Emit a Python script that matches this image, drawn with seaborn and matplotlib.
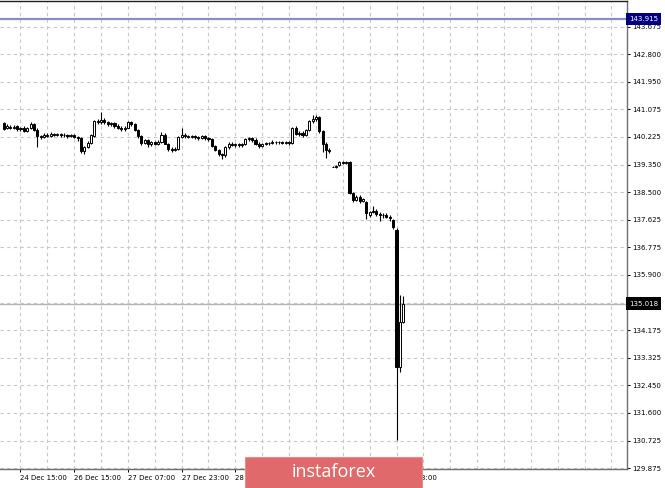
import numpy as np
import pandas as pd
import matplotlib
matplotlib.use("Agg")
import matplotlib.pyplot as plt
import seaborn as sns
from matplotlib.patches import Rectangle
from matplotlib.transforms import blended_transform_factory

# H1 candles (bar 0 = left edge of chart)
opens = [140.65, 140.50, 140.55, 140.52, 140.56, 140.47, 140.50, 140.42, 140.50, 140.62,
         140.45, 140.25, 140.22, 140.30, 140.27, 140.33, 140.30, 140.31, 140.28, 140.30,
         140.26, 140.28, 140.22, 140.18, 139.80, 139.92, 140.05, 140.26, 140.72, 140.70,
         140.75, 140.68, 140.62, 140.66, 140.58, 140.50, 140.46, 140.52, 140.68, 140.62,
         140.45, 140.25, 140.05, 140.12, 140.00, 140.06, 140.02, 140.08, 140.30, 140.02,
         139.85, 139.82, 139.86, 140.22, 140.30, 140.25, 140.22, 140.26, 140.22, 140.20,
         140.25, 140.18, 140.15, 139.95, 139.82, 139.68, 139.65, 139.90, 140.02, 139.98,
         140.00, 139.96, 140.00, 140.15, 140.20, 140.14, 140.02, 139.94, 140.00, 140.05,
         140.03, 140.08, 140.06, 140.08, 140.05, 140.07, 140.03, 140.50, 140.32, 140.35,
         140.30, 140.45, 140.72, 140.80, 140.84, 140.40, 140.02, 139.82, 139.30, 139.30,
         139.34, 139.44, 139.42, 139.44, 138.48, 138.26, 138.36, 138.24, 138.20, 137.78,
         137.88, 137.92, 137.82, 137.78, 137.80, 137.74, 137.62, 137.32, 133.05, 134.45]
highs = [140.70, 140.62, 140.60, 140.60, 140.61, 140.55, 140.56, 140.54, 140.68, 140.66,
         140.50, 140.30, 140.34, 140.36, 140.38, 140.36, 140.35, 140.34, 140.34, 140.33,
         140.32, 140.31, 140.26, 140.22, 139.95, 140.10, 140.32, 140.76, 140.80, 141.00,
         140.82, 140.74, 140.70, 140.70, 140.62, 140.56, 140.56, 140.74, 140.72, 140.66,
         140.48, 140.28, 140.16, 140.15, 140.10, 140.10, 140.12, 140.38, 140.34, 140.05,
         139.90, 139.90, 140.26, 140.52, 140.34, 140.30, 140.30, 140.30, 140.26, 140.30,
         140.28, 140.22, 140.18, 139.98, 139.85, 139.74, 139.94, 140.06, 140.08, 140.05,
         140.04, 140.04, 140.20, 140.24, 140.24, 140.18, 140.06, 140.04, 140.08, 140.08,
         140.12, 140.10, 140.11, 140.10, 140.10, 140.10, 140.54, 140.56, 140.40, 140.40,
         140.48, 140.76, 140.90, 140.92, 140.88, 140.44, 140.06, 139.88, 139.32, 139.36,
         139.46, 139.48, 139.47, 139.46, 138.52, 138.40, 138.40, 138.32, 138.24, 137.92,
         138.06, 137.96, 137.88, 137.86, 137.84, 137.78, 137.66, 137.38, 135.28, 135.25]
lows = [140.45, 140.46, 140.48, 140.47, 140.42, 140.42, 140.38, 140.38, 140.46, 140.40,
        139.90, 140.15, 140.18, 140.22, 140.24, 140.25, 140.26, 140.22, 140.24, 140.20,
        140.22, 140.18, 140.10, 139.72, 139.70, 139.88, 140.00, 140.22, 140.62, 140.64,
        140.62, 140.58, 140.56, 140.52, 140.46, 140.42, 140.42, 140.50, 140.58, 140.40,
        140.20, 139.98, 140.00, 139.92, 139.95, 139.96, 139.98, 140.04, 140.00, 139.78,
        139.76, 139.78, 139.82, 140.18, 140.20, 140.18, 140.18, 140.16, 140.14, 140.16,
        140.12, 140.10, 139.92, 139.78, 139.62, 139.55, 139.60, 139.86, 139.94, 139.92,
        139.90, 139.92, 139.96, 140.10, 140.08, 139.98, 139.88, 139.90, 139.96, 139.98,
        140.00, 140.02, 140.02, 140.00, 140.01, 139.98, 140.00, 140.28, 140.26, 140.24,
        140.26, 140.40, 140.66, 140.74, 140.36, 139.75, 139.58, 139.74, 139.28, 139.26,
        139.32, 139.38, 139.38, 138.44, 138.20, 138.22, 138.15, 138.18, 137.66, 137.72,
        137.84, 137.76, 137.60, 137.70, 137.68, 137.60, 137.36, 130.75, 132.88, 134.40]
closes = [140.49, 140.58, 140.52, 140.55, 140.47, 140.50, 140.42, 140.50, 140.62, 140.45,
          140.25, 140.22, 140.30, 140.27, 140.33, 140.30, 140.31, 140.28, 140.30, 140.26,
          140.28, 140.22, 140.18, 139.80, 139.92, 140.05, 140.28, 140.72, 140.70, 140.75,
          140.68, 140.62, 140.66, 140.58, 140.50, 140.46, 140.52, 140.68, 140.62, 140.45,
          140.25, 140.05, 140.12, 140.00, 140.06, 140.02, 140.08, 140.30, 140.02, 139.85,
          139.82, 139.86, 140.22, 140.30, 140.25, 140.22, 140.26, 140.22, 140.20, 140.25,
          140.18, 140.15, 139.95, 139.82, 139.68, 139.65, 139.90, 140.02, 139.98, 140.00,
          139.96, 140.00, 140.15, 140.20, 140.14, 140.02, 139.94, 140.00, 140.05, 140.03,
          140.08, 140.06, 140.08, 140.05, 140.07, 140.03, 140.50, 140.32, 140.35, 140.30,
          140.45, 140.72, 140.80, 140.84, 140.40, 140.02, 139.82, 139.80, 139.30, 139.31,
          139.44, 139.42, 139.44, 138.48, 138.26, 138.36, 138.24, 138.28, 137.84, 137.88,
          137.92, 137.82, 137.78, 137.80, 137.74, 137.68, 137.40, 133.05, 134.45, 135.018]

# price scale (right side)
grid_prices = [143.675, 142.8125, 141.95, 141.0875, 140.225, 139.3625, 138.5, 137.6375, 136.775,
               135.9125, 135.05, 134.1875, 133.325, 132.4625, 131.6, 130.7375, 129.875]
grid_labels = ["143.675", "142.800", "141.950", "141.075", "140.225", "139.350", "138.500",
               "137.625", "136.775", "135.900", "", "134.175", "133.325", "132.450",
               "131.600", "130.725", "129.875"]
level_price = 143.915
last_price = 135.018

# time scale (labels under the banner are left out, only the tail of the last shows)
time_bars = [5, 21, 37, 53, 69, 117]
time_labels = ["24 Dec 15:00", "26 Dec 15:00", "27 Dec 07:00", "27 Dec 23:00",
               "28 Dec 15:00", "2 Jan 23:00"]
grid_bars = list(range(5, 186, 8))


def main():
    sns.set_theme(style="white")
    plt.rcParams['font.family'] = ['DejaVu Sans']

    df = pd.DataFrame({"open": opens, "high": highs, "low": lows, "close": closes})
    df["bar"] = df.index
    up = df.close >= df.open

    fig = plt.figure(figsize=(6.65, 4.88), dpi=100)
    fig.patch.set_facecolor("white")
    ax = fig.add_axes([0, 19 / 488, 627 / 665, 468.5 / 488])
    ax.set_facecolor("white")

    # candles
    ax.vlines(df.bar, df.low, df.high, color="black", lw=0.8, zorder=3)
    ax.bar(df.bar, df.close - df.open, bottom=df.open, width=0.62,
           color=np.where(up, "white", "black"), edgecolor="black", linewidth=0.7, zorder=4)

    # levels
    ax.axhline(level_price, color="#8c8cc8", lw=1.6, zorder=2)
    ax.axhline(last_price, color="#b4b4b4", lw=1.0, zorder=2)

    ax.set_xlim(-1.1, 185.65)
    ax.set_ylim(129.85, 144.49)

    ax.yaxis.tick_right()
    ax.set_yticks(grid_prices)
    ax.set_yticklabels(grid_labels)
    ax.set_xticks(time_bars)
    ax.set_xticklabels(time_labels, ha="left")
    ax.set_xticks(grid_bars, minor=True)
    ax.tick_params(axis="both", which="major", labelsize=5.0, colors="black",
                   length=2.5, width=0.7, pad=1.6)
    ax.tick_params(axis="x", which="minor", length=0)
    ax.tick_params(axis="y", which="major", right=True, left=False)
    ax.tick_params(axis="x", which="major", bottom=True)
    ax.grid(True, which="both", color="#c8c8c8", linestyle=(0, (3, 3)), lw=0.8)

    ax.spines["left"].set_visible(False)
    ax.spines["top"].set_color("#202020")
    ax.spines["right"].set_color("#6e6e6e")
    ax.spines["bottom"].set_color("#6e6e6e")
    for s in ["top", "right", "bottom"]:
        ax.spines[s].set_linewidth(1.0)

    # price boxes on the scale
    tr = blended_transform_factory(ax.transAxes, ax.transData)
    ax.text(1.003, level_price, "143.915", transform=tr, fontsize=5.0, color="white",
            va="center", ha="left", clip_on=False, zorder=6,
            bbox=dict(boxstyle="square,pad=0.45", facecolor="#000080", edgecolor="none"))
    ax.text(1.003, last_price, "135.018", transform=tr, fontsize=5.0, color="white",
            va="center", ha="left", clip_on=False, zorder=6,
            bbox=dict(boxstyle="square,pad=0.45", facecolor="black", edgecolor="none"))

    # watermark banner
    fig.patches.append(Rectangle((245 / 665, 0), 177 / 665, 31 / 488, transform=fig.transFigure,
                                 facecolor="#e06a6b", edgecolor="#e98c8c", lw=0.8, zorder=10))
    fig.text(333.5 / 665, 16 / 488, "instaforex", color="white", fontsize=13,
             family="Open Sans", ha="center", va="center", zorder=11)

    fig.savefig("out.png", dpi=100)


if __name__ == "__main__":
    main()
